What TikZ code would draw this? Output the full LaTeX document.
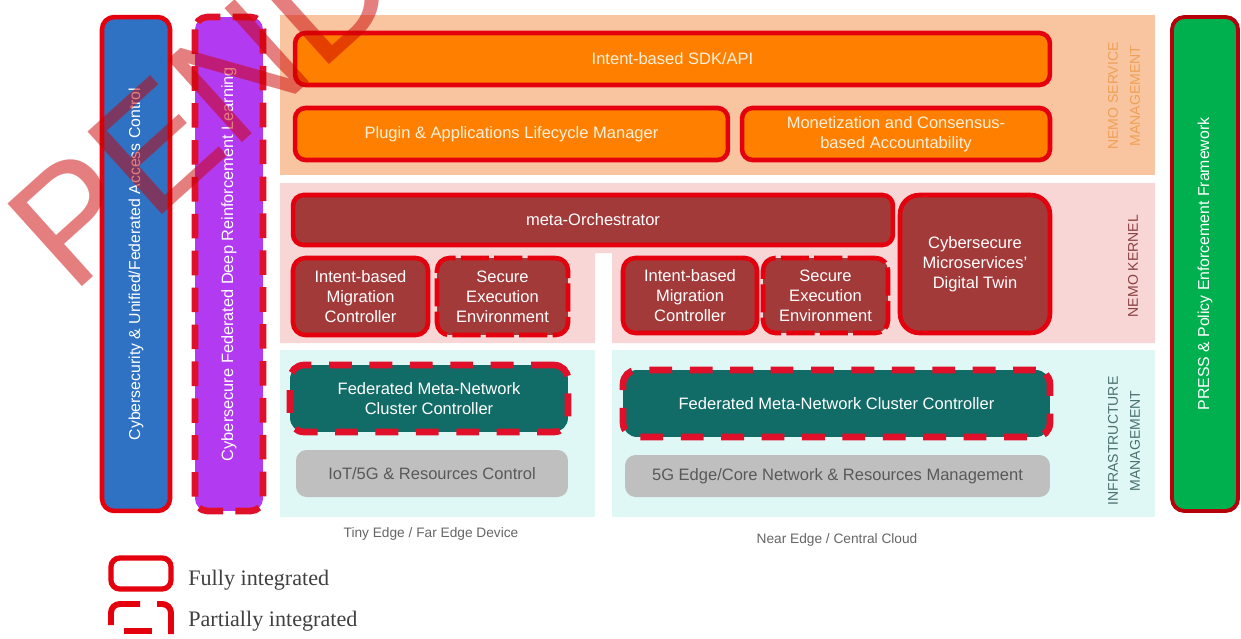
\documentclass[tikz,border=0pt]{standalone}
\usepackage{fontspec}
\setmainfont{Liberation Sans}
\newfontfamily\legendfont{Liberation Serif}
\definecolor{fullred}{HTML}{E4000C}
\definecolor{partred}{HTML}{E0102A}
\definecolor{peachp}{HTML}{F8C5A0}
\definecolor{pinkp}{HTML}{F9D6D6}
\definecolor{cyanp}{HTML}{DFF8F5}
\definecolor{orangebox}{HTML}{FF8000}
\definecolor{kernbox}{HTML}{A33A3A}
\definecolor{tealbox}{HTML}{116B66}
\definecolor{graybox}{HTML}{BFBFBF}
\definecolor{barblue}{HTML}{2F72C4}
\definecolor{barpurple}{HTML}{B23AF0}
\definecolor{bargreen}{HTML}{00B04F}
\definecolor{wmred}{HTML}{CC0000}
\definecolor{orangetxt}{HTML}{FFF0DC}
\definecolor{svclbl}{HTML}{EFA055}
\definecolor{kerlbl}{HTML}{8A4040}
\definecolor{infralbl}{HTML}{4A7070}
\definecolor{captxt}{HTML}{666666}
\begin{document}
\begin{tikzpicture}[x=0.02cm,y=-0.02cm,
  full/.style={draw=fullred, line width=2.6pt, rounded corners=6pt},
  semi/.style={draw=fullred, line width=2.6pt, rounded corners=7pt, dash pattern=on 16pt off 3pt},
  part/.style={draw=partred, line width=3.8pt, rounded corners=8pt, dash pattern=on 13pt off 10pt},
  lbl/.style={text=white, font=\fontsize{9.4}{11.3}\selectfont, align=center, inner sep=0pt},
  sidelbl/.style={rotate=90, font=\fontsize{8}{12.5}\selectfont, align=center, inner sep=0pt},
  caplbl/.style={text=captxt, font=\fontsize{7.8}{9}\selectfont, inner sep=0pt},
  leglbl/.style={text=black!75, font=\legendfont\fontsize{12.6}{14}\selectfont, anchor=west, inner sep=0pt},
  legicon/.style={draw=fullred, line width=3.4pt, rounded corners=5pt}
]
\clip (0,0) rectangle (1241,639);
\fill[white] (0,0) rectangle (1241,639);
% panels
\fill[peachp] (280,15) rectangle (1155,175);
\fill[pinkp] (280,183) -- (1155,183) -- (1155,343) -- (612,343) -- (612,253) -- (595,253) -- (595,343) -- (280,343) -- cycle;
\fill[cyanp] (280,350) rectangle (595,517);
\fill[cyanp] (612,350) rectangle (1155,517);
% side bars
\node[full, fill=barblue, rounded corners=7pt, rotate=90, minimum width=9.88cm, minimum height=1.36cm, lbl, font=\fontsize{9}{11}\selectfont] (acc) at (136,264) {Cybersecurity \& Unified/Federated Access Control};
\node[part, fill=barpurple, rounded corners=7pt, dash pattern=on 14pt off 7pt, rotate=90, minimum width=9.88cm, minimum height=1.36cm, lbl, font=\fontsize{9.3}{11}\selectfont] (drl) at (229,264) {Cybersecure Federated Deep Reinforcement Learning};
\node[draw=fullred!80!black, line width=2.2pt, rounded corners=7pt, fill=bargreen, rotate=90, minimum width=9.88cm, minimum height=1.32cm, lbl, font=\fontsize{9}{11}\selectfont] (press) at (1205,264) {PRESS \& Policy Enforcement Framework};
% service management
\node[full, fill=orangebox, minimum width=15.1cm, minimum height=1.04cm, lbl, text=orangetxt] (sdk) at (672.5,59) {Intent-based SDK/API};
\node[full, fill=orangebox, minimum width=8.66cm, minimum height=1.04cm, lbl, text=orangetxt] (plugin) at (511.5,134) {Plugin \& Applications Lifecycle Manager};
\node[full, fill=orangebox, minimum width=6.16cm, minimum height=1.04cm, lbl, text=orangetxt] (monet) at (896,134) {Monetization and Consensus-\\based Accountability};
\node[sidelbl, text=svclbl] (svc) at (1124,96) {NEMO SERVICE\\MANAGEMENT};
% kernel
\node[full, fill=kernbox, minimum width=12.0cm, minimum height=1.0cm, lbl] (meta) at (593,220) {meta-Orchestrator};
\node[full, fill=kernbox, rounded corners=11pt, minimum width=3.0cm, minimum height=2.76cm, lbl] (twin) at (975,264) {Cybersecure\\Microservices'\\Digital Twin};
\node[full, fill=kernbox, rounded corners=7pt, minimum width=2.7cm, minimum height=1.54cm, lbl] (imc1) at (360.5,296.5) {Intent-based\\Migration\\Controller};
\node[semi, fill=kernbox, minimum width=2.62cm, minimum height=1.54cm, lbl] (see1) at (502.5,296.5) {Secure\\Execution\\Environment};
\node[full, fill=kernbox, rounded corners=7pt, minimum width=2.68cm, minimum height=1.5cm, lbl] (imc2) at (690,295.5) {Intent-based\\Migration\\Controller};
\node[semi, fill=kernbox, minimum width=2.5cm, minimum height=1.5cm, lbl] (see2) at (825.5,295.5) {Secure\\Execution\\Environment};
\node[sidelbl, text=kerlbl] (ker) at (1133,266) {NEMO KERNEL};
% infrastructure
\node[part, fill=tealbox, minimum width=5.56cm, minimum height=1.34cm, lbl] (fed1) at (429,398.5) {Federated Meta-Network\\Cluster Controller};
\node[fill=graybox, rounded corners=6pt, minimum width=5.44cm, minimum height=0.94cm, lbl, text=black!65] (iot) at (432,473.5) {IoT/5G \& Resources Control};
\node[part, fill=tealbox, minimum width=8.54cm, minimum height=1.34cm, lbl] (fed2) at (836.5,403.5) {Federated Meta-Network Cluster Controller};
\node[fill=graybox, rounded corners=6pt, minimum width=8.5cm, minimum height=0.84cm, lbl, text=black!65] (core) at (837.5,476) {5G Edge/Core Network \& Resources Management};
\node[sidelbl, text=infralbl] (infra) at (1124,441) {INFRASTRUCTURE\\MANAGEMENT};
% captions
\node[caplbl] (tiny) at (431,534) {Tiny Edge / Far Edge Device};
\node[caplbl] (near) at (837,540) {Near Edge / Central Cloud};
% legend
\draw[legicon, line width=3pt] (111,558) rectangle (171,589);
\node[leglbl] (fully) at (188,580) {Fully integrated};
\draw[legicon] (111,625) -- (111,604) -- (140,604);
\draw[legicon] (157,604) -- (171,604) -- (171,634);
\draw[legicon] (124,631) -- (152,631);
\node[leglbl] (partial) at (188,621) {Partially integrated};
% watermark
\node[rotate=42, anchor=base west, inner sep=0pt, text=wmred, text opacity=0.5, font=\fontsize{92}{92}\selectfont] (wm) at (72,296) {PENDING};
\end{tikzpicture}
\end{document}
